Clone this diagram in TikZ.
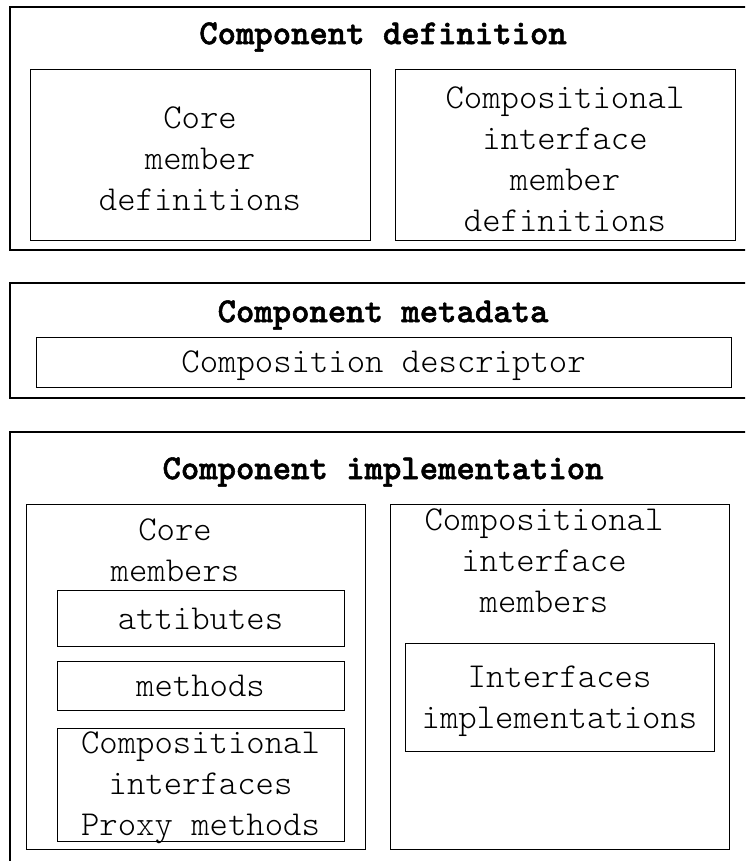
\documentclass[tikz,border=0pt]{standalone}
\usepackage{fontspec}
\newfontfamily\lightmono{Latin Modern Mono Light}
\newfontfamily\ttlfont[BoldFeatures={FakeBold=1.5}]{Latin Modern Mono Light}
\begin{document}
\begin{tikzpicture}[x=1pt,y=-1pt,
  outerbox/.style={draw=black,line width=2pt},
  ibox/.style={draw=black,line width=1pt,inner sep=0pt},
  txt/.style={inner sep=0pt,align=center,font=\lightmono\fontsize{35}{41}\selectfont},
  ttl/.style={inner sep=0pt,align=center,font=\ttlfont\bfseries\fontsize{35}{41}\selectfont}]
\useasboundingbox (0,0) rectangle (745,861);
\clip (0,0) rectangle (745,861);
% outer boxes
\draw[outerbox] (10,7) rectangle (760,250);
\draw[outerbox] (10,283) rectangle (760,398);
\draw[outerbox] (10,432) rectangle (760,880);
% Component definition
\node[ttl] (t1) at (383,37) {Component definition};
\node[ibox,minimum width=340,minimum height=170] (cmd) at (200,155) {};
\node[txt] (cmdt) at ([yshift=-4pt]cmd.center) {Core\\member\\definitions};
\node[ibox,minimum width=340,minimum height=170] (cimd) at (565,155) {};
\node[txt] (cimdt) at ([yshift=-4pt]cimd.center) {Compositional\\interface\\member\\definitions};
% Component metadata
\node[ttl] (t2) at (383,315) {Component metadata};
\node[ibox,minimum width=695,minimum height=50] (cd) at (383.5,362) {};
\node[txt] (cdt) at ([yshift=-4pt]cd.center) {Composition descriptor};
% Component implementation
\node[ttl] (t3) at (383,472) {Component implementation};
\node[ibox,minimum width=339,minimum height=345] (cm) at (195.5,676.5) {};
\node[txt] (cmt) at (175,550) {Core\\members};
\node[ibox,minimum width=287,minimum height=56] (att) at (200.5,618) {};
\node[txt] (attt) at ([yshift=-1pt]att.center) {attibutes};
\node[ibox,minimum width=287,minimum height=49] (meth) at (200.5,685.5) {};
\node[txt] (metht) at (meth.center) {methods};
\node[ibox,minimum width=287,minimum height=113] (prox) at (200.5,784.5) {};
\node[txt] (proxt) at ([yshift=-3pt]prox.center) {Compositional\\interfaces\\Proxy methods};
\node[ibox,minimum width=339,minimum height=345] (cim) at (559.5,676.5) {};
\node[txt] (cimt) at (544,561) {Compositional\\interface\\members};
\node[ibox,minimum width=309,minimum height=108] (ii) at (559.5,697) {};
\node[txt] (iit) at ([yshift=-4pt]ii.center) {Interfaces\\implementations};
\end{tikzpicture}
\end{document}
